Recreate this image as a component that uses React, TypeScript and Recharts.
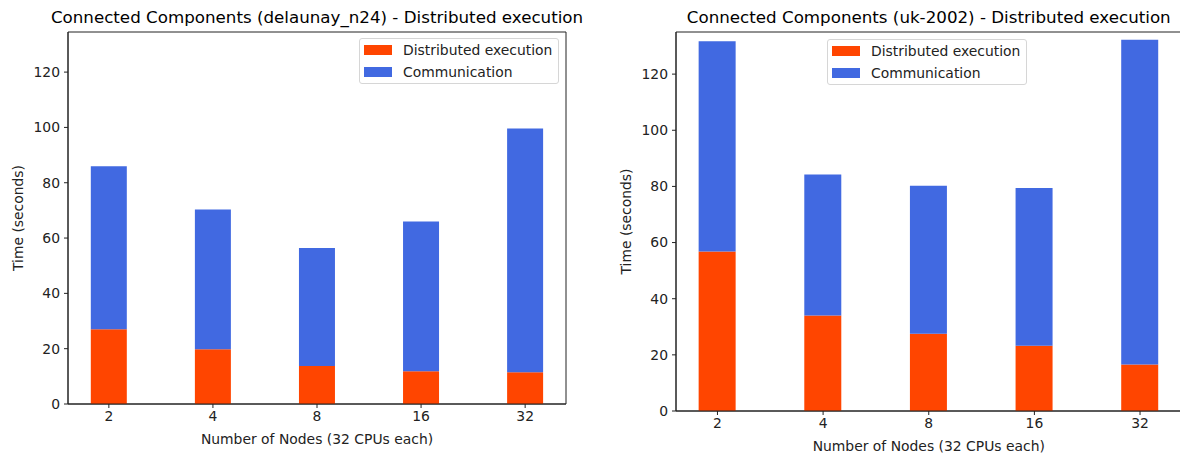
import { BarChart, Bar, XAxis, YAxis, ReferenceArea } from "recharts";

const nodes = ["2", "4", "8", "16", "32"];

// delaunay_n24 timings (seconds)
const delaunayCompute = [27.0, 19.8, 13.7, 11.8, 11.5];
const delaunayComm = [59.0, 50.5, 42.7, 54.2, 88.1];

// uk-2002 timings (seconds)
const ukCompute = [56.8, 34.0, 27.5, 23.2, 16.6];
const ukComm = [74.9, 50.2, 52.7, 56.2, 115.6];

const yTicks = [0, 20, 40, 60, 80, 100, 120];

const FONT = "'DejaVu Sans', sans-serif";
const INK = "#222";
const RED = "#FF4500";
const BLUE = "#4169E1";
const X_MIN = -0.3925;
const X_MAX = 4.3925;

const legendItems = [
  { label: "Distributed execution", color: RED },
  { label: "Communication", color: BLUE },
];

// matplotlib-style legend box, laid over the plot area
function LegendBox({ left, top }: { left: number; top: number }) {
  return (
    <div
      style={{
        position: "absolute",
        left,
        top,
        width: 200,
        height: 46,
        boxSizing: "border-box",
        border: "1px solid #d6d6d6",
        borderRadius: 3,
        background: "rgba(255,255,255,0.85)",
        fontFamily: FONT,
        fontSize: 13.9,
        color: INK,
      }}
    >
      {legendItems.map((it, i) => (
        <div key={it.label} style={{ position: "absolute", left: 4, top: 5 + i * 21.5, height: 12, display: "flex", alignItems: "center" }}>
          <div style={{ width: 28, height: 10, background: it.color }} />
          <span style={{ marginLeft: 11, lineHeight: "12px", whiteSpace: "nowrap" }}>{it.label}</span>
        </div>
      ))}
    </div>
  );
}

interface PanelProps {
  title: string;
  compute: number[];
  comm: number[];
  left: number;
  axisLeft: number;
  axisRight: number;
  axisBottom: number;
  yMax: number;
  barSize: number;
  legendLeft: number;
  legendTop: number;
  yLabelX: number;
  xLabelOffset: number;
}

function Panel(p: PanelProps) {
  const data = nodes.map((n, i) => ({ x: i, node: n, compute: p.compute[i], comm: p.comm[i] }));
  const width = 600;
  const height = 456;
  return (
    <div style={{ position: "absolute", left: p.left, top: 0, width, height }}>
      <div
        style={{
          position: "absolute",
          left: p.axisLeft - 100,
          width: p.axisRight - p.axisLeft + 200,
          top: 6,
          textAlign: "center",
          fontFamily: FONT,
          fontSize: 16.7,
          lineHeight: "22px",
          color: "#000",
          whiteSpace: "nowrap",
        }}
      >
        {p.title}
      </div>
      <BarChart
        width={width}
        height={height}
        data={data}
        margin={{ top: 32, right: width - p.axisRight, left: 0, bottom: 0 }}
      >
        <XAxis
          type="number"
          dataKey="x"
          domain={[X_MIN, X_MAX]}
          allowDataOverflow
          ticks={[0, 1, 2, 3, 4]}
          interval={0}
          tickFormatter={(v: number) => nodes[v]}
          height={height - p.axisBottom}
          tickSize={4}
          tickMargin={3}
          stroke={INK}
          tick={{ fill: INK, fontFamily: FONT, fontSize: 13.9 }}
          label={{
            value: "Number of Nodes (32 CPUs each)",
            position: "insideBottom",
            offset: p.xLabelOffset,
            style: { fill: INK, fontFamily: FONT, fontSize: 13.9 },
          }}
        />
        <YAxis
          type="number"
          domain={[0, p.yMax]}
          allowDataOverflow
          ticks={yTicks}
          interval={0}
          width={p.axisLeft}
          tickSize={4}
          tickMargin={4}
          stroke={INK}
          tick={{ fill: INK, fontFamily: FONT, fontSize: 13.9 }}
          label={{
            value: "Time (seconds)",
            angle: -90,
            position: "insideLeft",
            offset: p.yLabelX,
            style: { fill: INK, fontFamily: FONT, fontSize: 13.9, textAnchor: "middle" },
          }}
        />
        <Bar dataKey="compute" stackId="t" fill={RED} barSize={p.barSize} isAnimationActive={false} />
        <Bar dataKey="comm" stackId="t" fill={BLUE} barSize={p.barSize} isAnimationActive={false} />
        <ReferenceArea x1={X_MIN} x2={X_MAX} y1={0} y2={p.yMax} fill="none" stroke={INK} strokeWidth={1} />
      </BarChart>
      <LegendBox left={p.legendLeft} top={p.legendTop} />
    </div>
  );
}

export default function App() {
  return (
    <div style={{ position: "absolute", left: 0, top: 0, width: 1180, height: 456, overflow: "hidden", background: "#fff" }}>
      <Panel
        title="Connected Components (delaunay_n24) - Distributed execution"
        compute={delaunayCompute}
        comm={delaunayComm}
        left={0}
        axisLeft={68}
        axisRight={566}
        axisBottom={404}
        yMax={134.5}
        barSize={36}
        legendLeft={359}
        legendTop={38}
        yLabelX={18}
        xLabelOffset={12}
      />
      <Panel
        title="Connected Components (uk-2002) - Distributed execution"
        compute={ukCompute}
        comm={ukComm}
        left={600}
        axisLeft={76}
        axisRight={581.5}
        axisBottom={411}
        yMax={135}
        barSize={37}
        legendLeft={227}
        legendTop={39}
        yLabelX={26}
        xLabelOffset={5}
      />
    </div>
  );
}
